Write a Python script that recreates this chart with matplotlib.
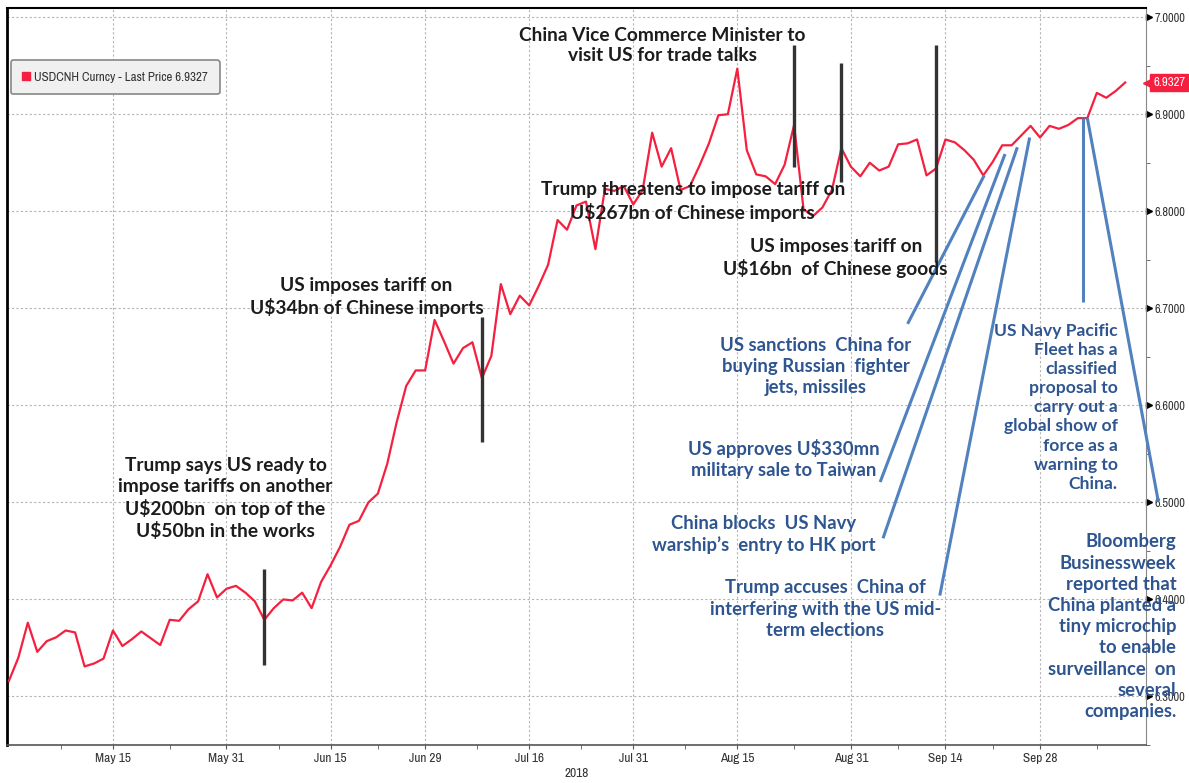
import numpy as np
import pandas as pd
import matplotlib.pyplot as plt
from matplotlib import font_manager as fm
from matplotlib.lines import Line2D
from matplotlib.transforms import blended_transform_factory

# USDCNH daily (weekday) closes, 30 Apr 2018 - 11 Oct 2018
usdcnh = [
    6.316, 6.340, 6.376, 6.346, 6.357, 6.361, 6.368, 6.366, 6.331, 6.334,
    6.339, 6.368, 6.352, 6.359, 6.367, 6.360, 6.353, 6.379, 6.378, 6.390,
    6.398, 6.426, 6.402, 6.411, 6.414, 6.407, 6.398, 6.379, 6.391, 6.400,
    6.399, 6.407, 6.391, 6.418, 6.435, 6.454, 6.477, 6.481, 6.500, 6.509,
    6.540, 6.583, 6.620, 6.636, 6.636, 6.688, 6.666, 6.643, 6.659, 6.665,
    6.628, 6.651, 6.725, 6.694, 6.713, 6.703, 6.723, 6.745, 6.791, 6.781,
    6.806, 6.810, 6.761, 6.823, 6.821, 6.826, 6.807, 6.822, 6.881, 6.846,
    6.865, 6.822, 6.826, 6.847, 6.870, 6.899, 6.900, 6.947, 6.863, 6.838,
    6.836, 6.828, 6.848, 6.889, 6.802, 6.795, 6.804, 6.822, 6.865, 6.846,
    6.836, 6.850, 6.842, 6.846, 6.869, 6.870, 6.874, 6.837, 6.844, 6.874,
    6.871, 6.863, 6.853, 6.837, 6.851, 6.868, 6.868, 6.878, 6.888, 6.876,
    6.888, 6.885, 6.889, 6.896, 6.896, 6.922, 6.917, 6.924, 6.9327,
]
start_date = '2018-04-30'
tick_dates = ['2018-05-15', '2018-05-31', '2018-06-15', '2018-06-29', '2018-07-16',
              '2018-07-31', '2018-08-15', '2018-08-31', '2018-09-14', '2018-09-28']
tick_labels = ['May 15', 'May 31', 'Jun 15', 'Jun 29', 'Jul 16',
               'Jul 31', 'Aug 15', 'Aug 31', 'Sep 14', 'Sep 28']
y_ticks = [6.3, 6.4, 6.5, 6.6, 6.7, 6.8, 6.9, 7.0]
last_price = usdcnh[-1]
legend_label = 'USDCNH Curncy - Last Price %.4f' % last_price

RED = '#f5203f'
BLUE_TXT = '#2e5590'
BLUE_LN = '#5182bf'
DARK = '#1c1c1c'
BOLD = ['Lato', 'DejaVu Sans']

# bloomberg axis font is a narrow one, pick a condensed regular face file if there is one
cands = [f for f in fm.fontManager.ttflist
         if ('Narrow' in f.name or f.stretch in ('condensed', 'semi-condensed'))
         and f.style == 'normal' and f.weight in (400, 'normal', 'regular', 'book')]
cands.sort(key=lambda f: (0 if 'Narrow' in f.name else 1, f.name))


def axis_font(size):
    if cands:
        return fm.FontProperties(fname=cands[0].fname, size=size)
    return fm.FontProperties(family=['Liberation Sans', 'DejaVu Sans'], size=size * 0.85)


small = axis_font(9.6)
ticky = axis_font(8.9)
tag = axis_font(9.2)
leg_font = axis_font(9.3)

dates = pd.bdate_range(start_date, periods=len(usdcnh))
x = np.arange(len(usdcnh))
major = [dates.get_loc(pd.Timestamp(d)) for d in tick_dates]
minor = [major[0] - 5.5] + [(a + b) / 2 for a, b in zip(major[:-1], major[1:])] + [major[-1] + 6]

fig = plt.figure(figsize=(11.89, 7.83), dpi=100)
ax = fig.add_axes([7 / 1189, 1 - 745 / 783, (1146 - 7) / 1189, (745 - 7.5) / 783])

ax.plot(x, usdcnh, color=RED, lw=1.6, zorder=3)
ax.set_xlim(-0.2, 120.2)
ax.set_ylim(6.252, 7.010)

# axes look
ax.grid(True, which='major', color='#b4b4b4', ls=(0, (2, 2)), lw=0.8)
ax.spines['left'].set_color('black')
ax.spines['left'].set_linewidth(2)
ax.spines['top'].set_color('black')
ax.spines['top'].set_linewidth(1.5)
ax.spines['right'].set_color('#888888')
ax.spines['bottom'].set_color('#555555')
ax.spines['bottom'].set_linewidth(1.2)

ax.set_xticks(major)
ax.set_xticklabels(tick_labels, fontproperties=small, color='#333333')
ax.set_xticks(minor, minor=True)
ax.tick_params(axis='x', which='both', length=3, color='#555555', pad=3)

ax.yaxis.tick_right()
ax.set_yticks(y_ticks)
ax.set_yticklabels(['%.4f' % v for v in y_ticks], fontproperties=ticky, color='#333333')
ax.set_yticks(np.arange(6.25, 7.0, 0.1), minor=True)
ax.tick_params(axis='y', which='major', length=0, pad=6)
ax.tick_params(axis='y', which='minor', length=3, color='#555555')
tr = blended_transform_factory(ax.transAxes, ax.transData)
ax.plot([1.003] * len(y_ticks), y_ticks, ls='none', marker='>', ms=4, color='black',
        transform=tr, clip_on=False)

ax.text(60, 6.226, '2018', fontproperties=small, color='#333333', ha='center', va='top')

# last price tag
ax.plot([1.0035], [last_price], ls='none', marker='<', ms=10, color=RED,
        transform=tr, clip_on=False, zorder=6)
ax.text(1.0062, last_price, '%.4f' % last_price, transform=tr, ha='left', va='center',
        fontproperties=tag, color='white', zorder=7,
        bbox=dict(boxstyle='square,pad=0.25', fc=RED, ec=RED))

# legend
handle = Line2D([], [], marker='s', ls='none', color=RED, ms=6)
leg = ax.legend([handle], [legend_label], loc='upper left', bbox_to_anchor=(0.0, 0.934),
                frameon=True, fancybox=True, facecolor='#f0f0f0', edgecolor='#888888',
                framealpha=1, handlelength=0.6, handletextpad=0.3, borderpad=0.9,
                borderaxespad=0.3, prop=leg_font)
leg.get_frame().set_linewidth(1.2)
for t in leg.get_texts():
    t.set_color('#333333')

# black event markers (x index, low, high)
events = [(27, 6.332, 6.431), (50, 6.562, 6.691), (83, 6.846, 6.971),
          (88, 6.830, 6.953), (98, 6.748, 6.971)]
for ex, lo, hi in events:
    ax.plot([ex, ex], [lo, hi], color='#333333', lw=2.4, zorder=4, solid_capstyle='butt')

# blue connectors
connectors = [((103.1, 6.837), (95.0, 6.684)), ((105.3, 6.859), (92.1, 6.521)),
              ((106.6, 6.866), (92.4, 6.463)), ((107.9, 6.876), (98.4, 6.404)),
              ((113.5, 6.896), (113.5, 6.707)), ((114.0, 6.896), (121.5, 6.501))]
for (x0, y0), (x1, y1) in connectors:
    ax.plot([x0, x1], [y0, y1], color=BLUE_LN, lw=2.2, zorder=4, clip_on=False,
            solid_capstyle='butt')

black_notes = [
    (69.1, 6.971, 'China Vice Commerce Minister to\nvisit US for trade talks'),
    (72.3, 6.810, 'Trump threatens to impose tariff on\nU$267bn of Chinese imports'),
    (87.4, 6.752, 'US imposes tariff on\nU$16bn  of Chinese goods'),
    (37.8, 6.712, 'US imposes tariff on\nU$34bn of Chinese imports'),
    (22.9, 6.504, 'Trump says US ready to\nimpose tariffs on another\n'
                  'U$200bn  on top of the\nU$50bn in the works'),
]
for tx, ty, s in black_notes:
    ax.text(tx, ty, s, ha='center', va='center', multialignment='center',
            fontfamily=BOLD, fontweight='bold', fontsize=13.8, color=DARK,
            linespacing=1.26, zorder=5)

blue_notes = [
    (85.3, 6.640, 'US sanctions  China for\nbuying Russian  fighter\njets, missiles'),
    (81.9, 6.545, 'US approves U$330mn\nmilitary sale to Taiwan'),
    (79.8, 6.467, 'China blocks  US Navy\nwarship\u2019s  entry to HK port'),
    (86.3, 6.390, 'Trump accuses  China of\ninterfering with the US mid-\nterm elections'),
]
for tx, ty, s in blue_notes:
    ax.text(tx, ty, s, ha='center', va='center', multialignment='center',
            fontfamily=BOLD, fontweight='bold', fontsize=13.3, color=BLUE_TXT,
            linespacing=1.3, zorder=5)

ax.text(117.2, 6.598, 'US Navy Pacific\nFleet has a\nclassified\nproposal to\ncarry out a\n'
        'global show of\nforce as a\nwarning to\nChina.', ha='right', va='center',
        multialignment='right', fontfamily=BOLD, fontweight='bold', fontsize=12.6,
        color=BLUE_TXT, linespacing=1.24, zorder=5)
ax.text(123.4, 6.372, 'Bloomberg\nBusinessweek\nreported that\nChina planted a\n'
        'tiny microchip\nto enable\nsurveillance  on\nseveral\ncompanies.', ha='right',
        va='center', multialignment='right', fontfamily=BOLD, fontweight='bold',
        fontsize=13.3, color=BLUE_TXT, linespacing=1.3, zorder=5)

fig.savefig('out.png', dpi=100, facecolor='white')
